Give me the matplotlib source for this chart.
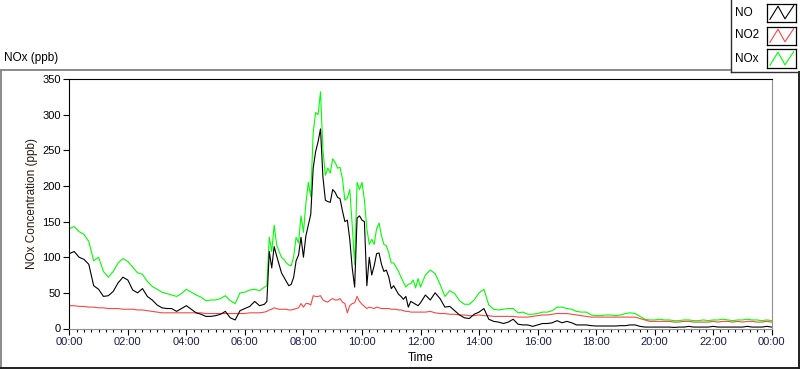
import numpy as np
import matplotlib
matplotlib.use("Agg")
import matplotlib.pyplot as plt
from matplotlib.lines import Line2D
from matplotlib.ticker import MultipleLocator, FuncFormatter

plt.rcParams['font.family'] = ['Liberation Sans', 'DejaVu Sans']

# sample times in minutes after midnight: 10 min, 5 min over the busy morning, then 10 min
t_min = np.concatenate([np.arange(0, 401, 10), np.arange(405, 721, 5), np.arange(730, 1441, 10)])
hours = t_min / 60.0

# NOx (ppb)
nox = [140, 143, 136, 132, 122, 95, 100, 80, 72, 80,
       92, 98, 94, 86, 78, 76, 66, 59, 55, 51,
       49, 47, 45, 49, 55, 51, 47, 44, 39, 40,
       40, 42, 46, 39, 35, 50, 51, 54, 55, 53,
       58,
       60, 128, 108, 145, 118, 108, 100, 97, 92, 89,
       88, 101, 128, 120, 158, 135, 175, 205, 185, 275,
       303, 300, 332, 250, 215, 225, 218, 238, 233, 225,
       226, 210, 180, 183, 195, 145, 90, 205, 195, 205,
       180, 140, 118, 125, 118, 140, 148, 130, 118, 116,
       106, 92, 92, 86, 80, 72, 65, 58, 62, 63,
       68, 57, 70, 58,
       75, 82, 77, 62, 45, 53, 49, 39, 34, 34,
       40, 50, 55, 33, 27, 26, 27, 28, 28, 22,
       23, 20, 20, 21, 23, 23, 25, 30, 30, 28,
       27, 24, 23, 23, 19, 18, 18, 19, 19, 18,
       19, 21, 22, 21, 17, 13, 12, 12, 13, 12,
       12, 11, 11, 12, 12, 11, 11, 12, 11, 12,
       12, 13, 12, 11, 12, 12, 13, 12, 12, 11,
       12, 11]

no = [105, 108, 100, 97, 90, 60, 55, 45, 46, 52,
      64, 72, 68, 54, 50, 56, 45, 40, 33, 29,
      28, 28, 24, 28, 32, 27, 22, 20, 17, 17,
      18, 20, 24, 15, 12, 25, 28, 31, 38, 32,
      34,
      38, 108, 85, 115, 102, 90, 78, 72, 66, 60,
      62, 72, 95, 103, 128, 100, 130, 145, 160, 225,
      248, 262, 280, 212, 180, 178, 177, 195, 191, 184,
      182, 165, 150, 152, 125, 85, 58, 155, 158, 152,
      150, 60, 100, 75, 88, 105, 106, 90, 80, 82,
      72, 56, 60, 54, 48, 45, 41, 45, 30, 38,
      36, 34, 32, 36,
      47, 40, 50, 42, 30, 31, 25, 19, 15, 14,
      20, 23, 28, 13, 10, 9, 7, 9, 13, 6,
      5, 5, 3, 5, 7, 7, 8, 11, 8, 10,
      8, 5, 5, 5, 4, 3.5, 3.5, 3.5, 3.5, 3.5,
      4, 4, 5, 5, 3, 2, 2, 2, 2, 2,
      2, 1.5, 2, 2, 3, 2, 2, 2, 2, 3,
      2, 2, 2, 2, 2, 2, 3, 2, 2, 2,
      3, 2]

no2 = [32, 32, 31, 31, 30, 30, 29, 29, 28, 28,
       28, 27, 27, 27, 26, 26, 25, 24, 23, 22,
       22, 22, 22, 22, 22, 22, 22, 22, 21, 21,
       21, 21, 21, 21, 21, 21, 21, 22, 22, 22,
       23,
       24, 26, 27, 29, 28, 27, 27, 27, 27, 26,
       26, 27, 28, 29, 35, 30, 35, 35, 33, 46,
       45, 45, 46, 40, 38, 37, 40, 42, 40, 40,
       42, 37, 35, 22, 32, 35, 36, 45, 38, 34,
       31, 28, 30, 29, 28, 30, 29, 28, 28, 28,
       28, 27, 27, 27, 26, 26, 25, 24, 24, 23,
       23, 23, 23, 23,
       23, 24, 22, 21, 21, 20, 20, 19, 19, 18,
       18, 19, 18, 18, 17, 17, 17, 17, 17, 16,
       16, 16, 17, 18, 19, 19, 20, 21, 21, 21,
       20, 19, 18, 17, 16, 16, 16, 16, 16, 16,
       16, 16, 16, 16, 14, 12, 10, 10, 10, 10,
       10, 9, 9, 10, 10, 9, 9, 9, 9, 10,
       9, 10, 10, 9, 10, 9, 10, 10, 9, 9,
       10, 9]

W, H = 800, 369
fig = plt.figure(figsize=(W / 100, H / 100), dpi=100)


def fx(x):
    return x / W


def fy(y):
    return 1 - y / H


# plot area
ax = fig.add_axes([fx(69.3), fy(328.5), (771.7 - 69.3) / W, (328.5 - 79) / H])
ax.plot(hours, nox, color='#00ff00', lw=0.8)
ax.plot(hours, no2, color='#ff4444', lw=0.8)
ax.plot(hours, no, color='black', lw=0.8)
ax.set_xlim(0, 24)
ax.set_ylim(0, 350)
ax.xaxis.set_major_locator(MultipleLocator(2))
ax.xaxis.set_minor_locator(MultipleLocator(0.25))
ax.xaxis.set_major_formatter(FuncFormatter(lambda v, p: f"{int(round(v)) % 24:02d}:00"))
ax.yaxis.set_major_locator(MultipleLocator(50))
ax.tick_params(axis='both', which='major', direction='out', length=4, width=0.8,
               labelsize=8, pad=2)
ax.tick_params(axis='x', which='minor', direction='out', length=2.5, width=0.8)
ax.tick_params(axis='x', labelcolor='#1c1c50')
for s in ['top', 'left']:
    ax.spines[s].set_color('black')
for s in ['bottom', 'right']:
    ax.spines[s].set_color('#909090')
ax.set_xlabel('Time', fontsize=8.5, labelpad=3.5)
ax.set_ylabel('NOx Concentration (ppb)', fontsize=8.5, color='#2a1a10', labelpad=3)

# outer frame
fig.add_artist(Line2D([fx(0), fx(730)], [fy(69.5), fy(69.5)], color='#8a8a8a', lw=1.4,
                      transform=fig.transFigure))
fig.add_artist(Line2D([fx(0.7), fx(0.7)], [fy(69.5), fy(367.5)], color='#8a8a8a', lw=1.4,
                      transform=fig.transFigure))
fig.add_artist(Line2D([fx(0), fx(800)], [fy(367.5), fy(367.5)], color='#202020', lw=1.4,
                      transform=fig.transFigure))
fig.add_artist(Line2D([fx(799.3), fx(799.3)], [fy(72), fy(367.5)], color='#202020', lw=1.4,
                      transform=fig.transFigure))

fig.text(fx(4), fy(58), 'NOx (ppb)', va='center', ha='left', fontsize=8.5)

# legend panel
fig.add_artist(Line2D([fx(730.5), fx(730.5)], [fy(0), fy(72)], color='#303030', lw=1.0,
                      transform=fig.transFigure))
fig.add_artist(Line2D([fx(730.5), fx(800)], [fy(72), fy(72)], color='#303030', lw=1.0,
                      transform=fig.transFigure))

legend_names = ['NO', 'NO2', 'NOx']
legend_colors = ['black', '#ff4444', '#00ff00']
legend_rows = [12.5, 35.5, 58.5]
for name, col, yc in zip(legend_names, legend_colors, legend_rows):
    fig.text(fx(735), fy(yc), name, va='center', ha='left', fontsize=8.5)
    sw = fig.add_axes([fx(767), fy(yc + 9), 29 / W, 18 / H])
    sw.plot([0.1, 0.38, 0.62, 0.92], [0.12, 0.85, 0.15, 0.88], color=col, lw=0.8)
    sw.set_xlim(0, 1)
    sw.set_ylim(0, 1)
    sw.set_xticks([])
    sw.set_yticks([])
    for s in sw.spines.values():
        s.set_color('black')
        s.set_linewidth(0.9)

fig.savefig('out.png', dpi=100)
